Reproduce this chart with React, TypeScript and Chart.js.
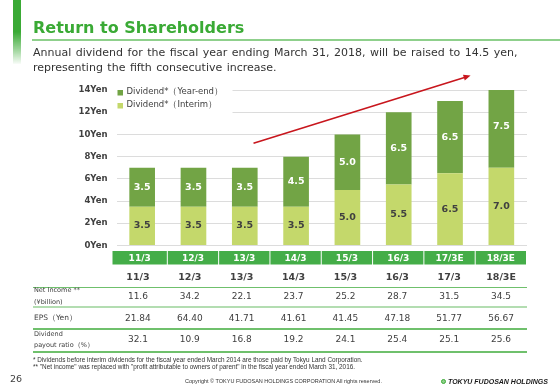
import React, { useEffect, useRef } from 'react';
import { Chart, registerables } from 'chart.js';

Chart.register(...registerables);

// ---- data ----
const categories = ['11/3', '12/3', '13/3', '14/3', '15/3', '16/3', '17/3E', '18/3E'];
const interim = [3.5, 3.5, 3.5, 3.5, 5.0, 5.5, 6.5, 7.0];
const yearEnd = [3.5, 3.5, 3.5, 4.5, 5.0, 6.5, 6.5, 7.5];
const yMax = 14;
const yStep = 2;
const tableYears = ['11/3', '12/3', '13/3', '14/3', '15/3', '16/3', '17/3', '18/3E'];
const netIncome = ['11.6', '34.2', '22.1', '23.7', '25.2', '28.7', '31.5', '34.5'];
const eps = ['21.84', '64.40', '41.71', '41.61', '41.45', '47.18', '51.77', '56.67'];
const payout = ['32.1', '10.9', '16.8', '19.2', '24.1', '25.4', '25.1', '25.6'];
// arrow annotation in data space: [category index, value]
const arrowFrom = [2.17, 9.2];
const arrowTo = [6.4, 15.3];

const DARK = '#72a445';
const LIGHT = '#c4d86b';
const CELL = '#44ad48';
const FONT = '"DejaVu Sans", Verdana, sans-serif';
const TXT = '#404040';

const COL0 = 112;
const COLW = (527 - 112) / 8;

const overlayPlugin = {
  id: 'overlay',
  afterDatasetsDraw(chart: any) {
    const ctx = chart.ctx;
    const xs = chart.scales.x;
    const ys = chart.scales.y;
    const area = chart.chartArea;
    ctx.save();
    // bar value labels
    chart.data.datasets.forEach((ds: any, di: number) => {
      const meta = chart.getDatasetMeta(di);
      meta.data.forEach((el: any, i: number) => {
        const v = ds.data[i];
        const cy = (el.y + el.base) / 2;
        ctx.font = 'bold 9.5px ' + FONT;
        ctx.textAlign = 'center';
        ctx.textBaseline = 'middle';
        ctx.fillStyle = di === 1 ? '#ffffff' : TXT;
        ctx.fillText(v.toFixed(1), el.x, cy);
      });
    });
    // legend (white box over gridlines)
    ctx.fillStyle = '#ffffff';
    ctx.fillRect(area.left - 4, area.top - 6, 120, 30);
    const legendItems = [
      { label: chart.data.datasets[1].label, color: DARK, y: area.top + 2 },
      { label: chart.data.datasets[0].label, color: LIGHT, y: area.top + 15 },
    ];
    legendItems.forEach((it) => {
      ctx.fillStyle = it.color;
      ctx.fillRect(area.left + 1, it.y - 2, 5.5, 5.5);
      ctx.fillStyle = TXT;
      ctx.font = '8.5px ' + FONT;
      ctx.textAlign = 'left';
      ctx.textBaseline = 'middle';
      ctx.fillText(it.label, area.left + 10, it.y);
    });
    // category header cells
    const cellTop = area.bottom + 5.5;
    const cellH = 13.5;
    categories.forEach((c, i) => {
      let l = xs.getPixelForValue(i - 0.5);
      const r = xs.getPixelForValue(i + 0.5);
      if (i === 0) l -= 4;
      ctx.fillStyle = CELL;
      ctx.fillRect(l, cellTop, r - l - 1, cellH);
      ctx.fillStyle = '#ffffff';
      ctx.font = 'bold 9px ' + FONT;
      ctx.textAlign = 'center';
      ctx.textBaseline = 'middle';
      ctx.fillText(c, (l + r - 1) / 2, cellTop + cellH / 2 + 0.5);
    });
    // arrow
    const x1 = xs.getPixelForValue(arrowFrom[0]);
    const y1 = ys.getPixelForValue(arrowFrom[1]);
    const x2 = xs.getPixelForValue(arrowTo[0]);
    const y2 = ys.getPixelForValue(arrowTo[1]);
    const ang = Math.atan2(y2 - y1, x2 - x1);
    const hl = 7;
    const hw = 3;
    ctx.strokeStyle = '#c8161d';
    ctx.fillStyle = '#c8161d';
    ctx.lineWidth = 1.6;
    ctx.beginPath();
    ctx.moveTo(x1, y1);
    ctx.lineTo(x2 - Math.cos(ang) * hl * 0.8, y2 - Math.sin(ang) * hl * 0.8);
    ctx.stroke();
    ctx.beginPath();
    ctx.moveTo(x2, y2);
    ctx.lineTo(x2 - Math.cos(ang) * hl + Math.sin(ang) * hw, y2 - Math.sin(ang) * hl - Math.cos(ang) * hw);
    ctx.lineTo(x2 - Math.cos(ang) * hl - Math.sin(ang) * hw, y2 - Math.sin(ang) * hl + Math.cos(ang) * hw);
    ctx.closePath();
    ctx.fill();
    ctx.restore();
  },
};

function abs(left: number, top: number, extra: any = {}): any {
  return { position: 'absolute', left, top, whiteSpace: 'nowrap', ...extra };
}

export default function App() {
  const ref = useRef<HTMLCanvasElement | null>(null);

  useEffect(() => {
    if (!ref.current) return;
    const chart = new Chart(ref.current, {
      type: 'bar',
      data: {
        labels: categories,
        datasets: [
          { label: 'Dividend*（Interim）', data: interim, backgroundColor: LIGHT, stack: 's' },
          { label: 'Dividend*（Year-end）', data: yearEnd, backgroundColor: DARK, stack: 's' },
        ],
      },
      options: {
        responsive: false,
        animation: false,
        devicePixelRatio: 1,
        layout: { padding: { left: 0, right: 33, top: 90, bottom: 142.5 } },
        datasets: { bar: { categoryPercentage: 1, barPercentage: 0.5 } },
        scales: {
          x: { stacked: true, display: false, offset: true },
          y: {
            stacked: true,
            min: 0,
            max: yMax,
            ticks: {
              stepSize: yStep,
              padding: 9,
              color: TXT,
              font: { family: FONT, size: 8.5, weight: 'bold' },
              callback: (v: any) => v + 'Yen',
            },
            grid: { color: '#dcdcdc', drawTicks: false, lineWidth: 1 },
            border: { display: false },
            afterFit: (s: any) => {
              s.width = 116.5;
            },
          },
        },
        plugins: { legend: { display: false }, tooltip: { enabled: false } },
      } as any,
      plugins: [overlayPlugin],
    });
    return () => chart.destroy();
  }, []);

  const rowVals = (vals: string[], cy: number, bold = false, size = 9) =>
    vals.map((v, i) => (
      <div
        key={cy + '-' + i}
        style={abs(COL0 + i * COLW, cy - 7, {
          width: COLW,
          height: 14,
          lineHeight: '14px',
          textAlign: 'center',
          fontSize: size,
          fontWeight: bold ? 'bold' : 'normal',
          color: TXT,
        })}
      >
        {v}
      </div>
    ));

  const hline = (y: number, h: number, color: string) => (
    <div style={abs(33, y - h / 2, { width: 527 - 33, height: h, background: color })} />
  );

  const lbl = (text: string, cy: number, size: number) => (
    <div style={abs(34, cy - 6, { height: 12, lineHeight: '12px', fontSize: size, color: TXT })}>{text}</div>
  );

  return (
    <div
      style={{
        position: 'fixed',
        left: 0,
        top: 0,
        width: 560,
        height: 388,
        background: '#ffffff',
        overflow: 'hidden',
        fontFamily: FONT,
      }}
    >
      <canvas ref={ref} width={560} height={388} style={{ position: 'absolute', left: 0, top: 0, display: 'block' }} />
      <div
        style={abs(13, 0, {
          width: 7.5,
          height: 64,
          background: 'linear-gradient(to bottom, #3aaa35 0%, #3aaa35 50%, rgba(58,170,53,0.45) 80%, rgba(58,170,53,0.03) 100%)',
        })}
      />
      <div style={abs(33, 19.5, { fontSize: 16, lineHeight: '16px', fontWeight: 'bold', color: '#3aaa35' })}>
        Return to Shareholders
      </div>
      <div style={abs(32, 39, { width: 528, height: 1.5, background: '#8fd08c' })} />
      <div style={abs(33, 45, { fontSize: 11, lineHeight: '15px', color: '#333333', wordSpacing: 1 })}>
        Annual dividend for the fiscal year ending March 31, 2018, will be raised to 14.5 yen,
        <br />
        representing the fifth consecutive increase.
      </div>

      {rowVals(tableYears, 276.5, true, 9.5)}
      {hline(287.3, 1.5, '#6fc06c')}
      {lbl('Net Income **', 290, 6.5)}
      {lbl('(¥billion)', 301.5, 6.5)}
      {rowVals(netIncome, 296)}
      {hline(307.3, 2, '#b3ddb1')}
      {lbl('EPS（Yen）', 318, 7.5)}
      {rowVals(eps, 318)}
      {hline(329, 1.5, '#6fc06c')}
      {lbl('Dividend', 334, 6.5)}
      {lbl('payout ratio（%）', 345, 6.5)}
      {rowVals(payout, 339)}
      {hline(352, 1.5, '#6fc06c')}

      <div
        style={abs(33, 356, {
          fontFamily: '"Liberation Sans", Arial, sans-serif',
          fontSize: 6.4,
          lineHeight: '7px',
          color: '#333333',
        })}
      >
        * Dividends before interim dividends for the fiscal year ended March 2014 are those paid by Tokyu Land Corporation.
        <br />
        ** "Net income" was replaced with "profit attributable to owners of parent" in the fiscal year ended March 31, 2016.
      </div>
      <div style={abs(10, 373, { fontSize: 9.5, lineHeight: '12px', color: TXT })}>26</div>
      <div
        style={abs(185, 377.5, {
          fontFamily: '"Liberation Sans", Arial, sans-serif',
          fontSize: 5.5,
          lineHeight: '7px',
          color: '#333333',
        })}
      >
        Copyright © TOKYU FUDOSAN HOLDINGS CORPORATION All rights reserved.
      </div>
      <div
        style={abs(441, 378.5, {
          width: 5,
          height: 5,
          borderRadius: '50%',
          background: '#8fd08c',
          border: '1px solid #3aaa35',
          boxSizing: 'border-box',
        })}
      />
      <div
        style={abs(448, 376.5, {
          fontFamily: '"Liberation Sans", Arial, sans-serif',
          fontSize: 7,
          lineHeight: '9px',
          fontWeight: 'bold',
          fontStyle: 'italic',
          color: '#1a1a1a',
        })}
      >
        TOKYU FUDOSAN HOLDINGS
      </div>
    </div>
  );
}
